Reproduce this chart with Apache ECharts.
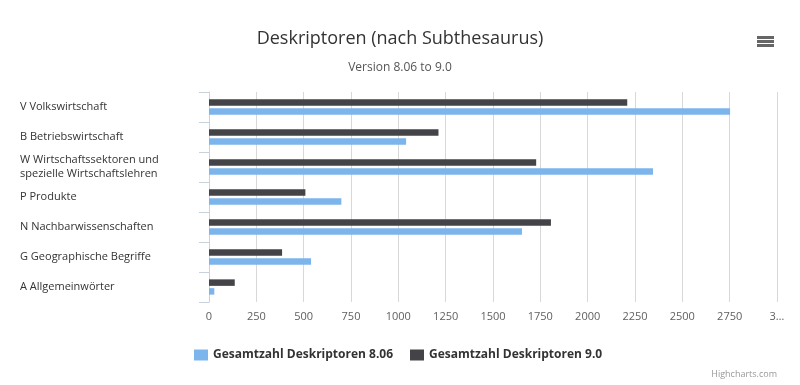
<!DOCTYPE html>
<html>
<head>
<meta charset="utf-8">
<script src="https://cdn.jsdelivr.net/npm/echarts@6/dist/echarts.min.js"></script>
<style>
  html, body { margin: 0; padding: 0; background: #fff; }
  #chart { width: 800px; height: 385px; }
</style>
</head>
<body>
<div id="chart"></div>
<script>
const categories = [
  'V Volkswirtschaft',
  'B Betriebswirtschaft',
  'W Wirtschaftssektoren und\nspezielle Wirtschaftslehren',
  'P Produkte',
  'N Nachbarwissenschaften',
  'G Geographische Begriffe',
  'A Allgemeinwörter'
];
const seriesNames = ['Gesamtzahl Deskriptoren 8.06', 'Gesamtzahl Deskriptoren 9.0'];
const values806 = [2752, 1041, 2345, 699, 1653, 539, 28];
const values90 = [2209, 1212, 1728, 509, 1806, 386, 136];
const xTickLabels = { 3000: '3…' };

const FONT = '"Open Sans", "DejaVu Sans", sans-serif';
const chart = echarts.init(document.getElementById('chart'), null, { renderer: 'canvas' });

chart.setOption({
  animation: false,
  backgroundColor: '#ffffff',
  textStyle: { fontFamily: FONT },
  title: {
    text: 'Deskriptoren (nach Subthesaurus)',
    subtext: 'Version 8.06 to 9.0',
    left: 'center',
    top: 25,
    itemGap: 14,
    textStyle: { fontFamily: FONT, fontSize: 18, fontWeight: 'normal', color: '#333333' },
    subtextStyle: { fontFamily: FONT, fontSize: 12, color: '#555555' }
  },
  legend: {
    data: seriesNames,
    left: 189,
    top: 344,
    icon: 'rect',
    itemWidth: 14,
    itemHeight: 11,
    itemGap: 17,
    textStyle: { fontFamily: FONT, fontSize: 12, fontWeight: 'bold', color: '#333333' }
  },
  grid: { left: 209, right: 23, top: 92, bottom: 83, containLabel: false },
  xAxis: {
    type: 'value',
    min: 0,
    max: 3000,
    interval: 250,
    axisLine: { show: false },
    axisTick: { show: false },
    splitLine: { show: true, lineStyle: { color: '#D8D8D8', width: 1 } },
    axisLabel: {
      color: '#606060',
      fontSize: 11,
      margin: 9,
      fontFamily: FONT,
      formatter: v => (xTickLabels[v] !== undefined ? xTickLabels[v] : String(v))
    }
  },
  yAxis: {
    type: 'category',
    data: categories,
    inverse: true,
    axisLine: { show: true, lineStyle: { color: '#C8D2DC', width: 1 } },
    axisTick: { show: true, length: 10, lineStyle: { color: '#C8D2DC' } },
    splitLine: { show: false },
    axisLabel: {
      align: 'left',
      margin: 189,
      color: '#333333',
      fontSize: 11,
      lineHeight: 14,
      fontFamily: FONT
    }
  },
  series: [
    {
      name: seriesNames[1],
      type: 'bar',
      data: values90,
      barWidth: 6.5,
      barGap: '35%',
      itemStyle: { color: '#434348' }
    },
    {
      name: seriesNames[0],
      type: 'bar',
      data: values806,
      barWidth: 6.5,
      barGap: '35%',
      itemStyle: { color: '#7CB5EC' }
    }
  ],
  graphic: [
    { type: 'rect', left: 757, top: 36, shape: { width: 17, height: 3 }, style: { fill: '#666666' } },
    { type: 'rect', left: 757, top: 40, shape: { width: 17, height: 3 }, style: { fill: '#666666' } },
    { type: 'rect', left: 757, top: 44, shape: { width: 17, height: 3 }, style: { fill: '#666666' } },
    {
      type: 'text',
      right: 23,
      top: 370,
      style: { text: 'Highcharts.com', fontFamily: FONT, fontSize: 9, fill: '#999999' }
    }
  ]
});
</script>
</body>
</html>
